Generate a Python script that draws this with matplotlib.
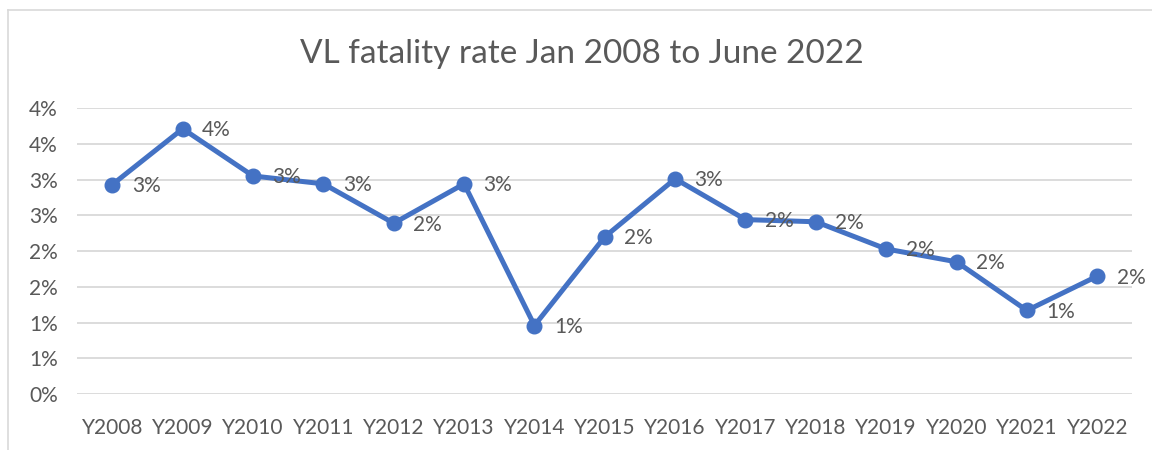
import math
import matplotlib.pyplot as plt
from matplotlib.ticker import FuncFormatter, MultipleLocator
from matplotlib.lines import Line2D

years = ['Y2008', 'Y2009', 'Y2010', 'Y2011', 'Y2012', 'Y2013', 'Y2014', 'Y2015',
         'Y2016', 'Y2017', 'Y2018', 'Y2019', 'Y2020', 'Y2021', 'Y2022']
fatality_rate = [0.0293, 0.0371, 0.0305, 0.0294, 0.0239, 0.0294, 0.0096, 0.0220,
                 0.0301, 0.0244, 0.0241, 0.0203, 0.0185, 0.0117, 0.0165]

plt.rcParams['font.family'] = ['Lato', 'DejaVu Sans']
grey = '#595959'
blue = '#4472C4'


def pct(v):
    # Excel-style rounding (half away from zero)
    return f'{math.floor(v * 100 + 0.5 + 1e-9):.0f}%'


fig = plt.figure(figsize=(11.52, 4.5), dpi=100)
ax = fig.add_axes([0.067, 0.124, 0.916, 0.636])

x = range(len(years))
ax.plot(x, fatality_rate, color=blue, lw=3.6, marker='o', markersize=10.5, zorder=3)
for i, v in enumerate(fatality_rate):
    ax.annotate(pct(v), (i, v), xytext=(14, -1), textcoords='offset points',
                ha='left', va='center', fontsize=15, color=grey, zorder=4)

ax.set_xlim(-0.5, len(years) - 0.5)
ax.set_ylim(0, 0.04)
ax.yaxis.set_major_locator(MultipleLocator(0.005))
ax.yaxis.set_major_formatter(FuncFormatter(lambda v, p: pct(v)))
ax.set_xticks(list(x))
ax.set_xticklabels(years)
ax.tick_params(axis='both', length=0, labelsize=15, labelcolor=grey)
ax.tick_params(axis='x', pad=17)
ax.tick_params(axis='y', pad=14)
ax.grid(axis='y', color='#D9D9D9', lw=1.3)
ax.set_axisbelow(True)
for s in ax.spines.values():
    s.set_visible(False)

fig.text(0.505, 0.88, 'VL fatality rate Jan 2008 to June 2022', ha='center', va='center',
         fontsize=24, color=grey)

# chart border (left and top edges visible)
fig.add_artist(Line2D([8 / 1152, 8 / 1152], [0, 1 - 10 / 450], transform=fig.transFigure,
                      color='#D9D9D9', lw=1.2))
fig.add_artist(Line2D([8 / 1152, 1], [1 - 10 / 450, 1 - 10 / 450], transform=fig.transFigure,
                      color='#D9D9D9', lw=1.2))

fig.savefig('out.png', dpi=100)
